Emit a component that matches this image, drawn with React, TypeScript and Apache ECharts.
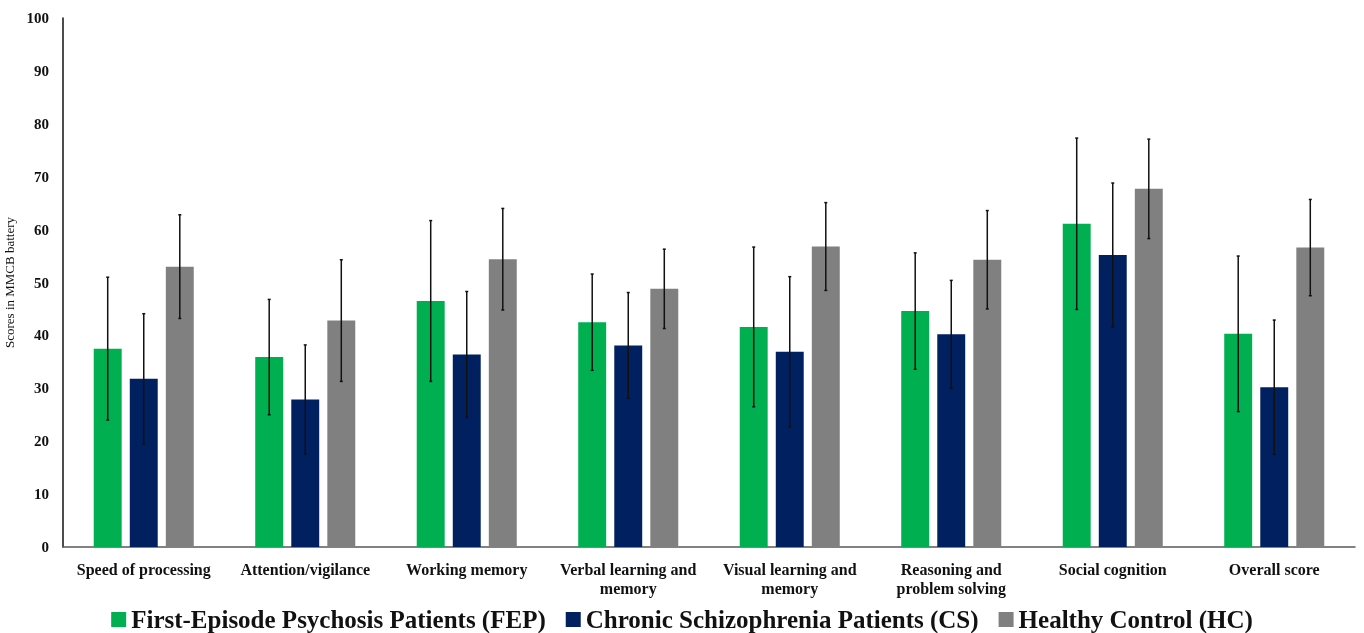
import React, { useEffect, useRef } from "react";
import * as echarts from "echarts";

const categories = [
  "Speed of processing",
  "Attention/vigilance",
  "Working memory",
  "Verbal learning and\nmemory",
  "Visual learning and\nmemory",
  "Reasoning and\nproblem solving",
  "Social cognition",
  "Overall score",
];

const seriesNames = [
  "First-Episode Psychosis Patients (FEP)",
  "Chronic Schizophrenia Patients (CS)",
  "Healthy Control (HC)",
];

const fepMean = [37.5, 35.9, 46.5, 42.5, 41.6, 44.6, 61.1, 40.3];
const fepSD = [13.5, 10.9, 15.2, 9.1, 15.1, 11.0, 16.2, 14.7];
const csMean = [31.8, 27.9, 36.4, 38.1, 36.9, 40.2, 55.2, 30.2];
const csSD = [12.3, 10.3, 11.9, 10.0, 14.2, 10.2, 13.6, 12.7];
const hcMean = [53.0, 42.8, 54.4, 48.8, 56.8, 54.3, 67.7, 56.6];
const hcSD = [9.8, 11.5, 9.6, 7.5, 8.3, 9.3, 9.4, 9.1];

const yTicks = [0, 10, 20, 30, 40, 50, 60, 70, 80, 90, 100];

const colors = ["#00B050", "#002060", "#808080"];
const BAR_FRAC = 0.173;
const GAP_FRAC = 0.29;
const FONT = "Liberation Serif, DejaVu Serif, serif";

export default function App() {
  const ref = useRef<HTMLDivElement>(null);
  useEffect(() => {
    document.body.style.margin = "0";
    const chart = echarts.init(ref.current!, null, { renderer: "svg" });
    const means = [fepMean, csMean, hcMean];
    const sds = [fepSD, csSD, hcSD];

    const barSeries = means.map((m, i) => ({
      name: seriesNames[i],
      type: "bar",
      data: m,
      barWidth: BAR_FRAC * 100 + "%",
      barGap: GAP_FRAC * 100 + "%",
      itemStyle: { color: colors[i] },
    }));

    const errSeries = means.map((m, i) => ({
      type: "custom",
      name: "err" + i,
      z: 10,
      data: m.map((v, k) => [k, v - sds[i][k], v + sds[i][k]]),
      renderItem: (params: any, api: any) => {
        const band = api.size([1, 0])[0];
        const bw = band * BAR_FRAC;
        const off = (i - 1) * bw * (1 + GAP_FRAC);
        const lo = api.coord([api.value(0), api.value(1)]);
        const hi = api.coord([api.value(0), api.value(2)]);
        const x = lo[0] + off;
        const st = { stroke: "#111", lineWidth: 1.5 };
        return {
          type: "group",
          children: [
            { type: "line", shape: { x1: x, y1: lo[1], x2: x, y2: hi[1] }, style: st },
            { type: "line", shape: { x1: x - 1.5, y1: lo[1], x2: x + 1.5, y2: lo[1] }, style: st },
            { type: "line", shape: { x1: x - 1.5, y1: hi[1], x2: x + 1.5, y2: hi[1] }, style: st },
          ],
        };
      },
    }));

    chart.setOption({
      animation: false,
      textStyle: { fontFamily: FONT },
      grid: {
        left: 63,
        right: 9,
        top: 18,
        bottom: 86,
        containLabel: false,
        outerBoundsMode: "none",
      },
      legend: {
        data: seriesNames,
        top: 607,
        left: "center",
        padding: 0,
        icon: "rect",
        itemWidth: 15,
        itemHeight: 15,
        itemGap: 20,
        textStyle: { fontFamily: FONT, fontSize: 25, fontWeight: "bold", color: "#111" },
      },
      xAxis: {
        type: "category",
        data: categories,
        axisTick: { show: false },
        axisLine: { lineStyle: { color: "#595959", width: 1.5 } },
        axisLabel: {
          interval: 0,
          margin: 13,
          fontFamily: FONT,
          fontSize: 16,
          fontWeight: "bold",
          color: "#111",
          lineHeight: 19,
        },
      },
      yAxis: {
        type: "value",
        min: yTicks[0],
        max: yTicks[yTicks.length - 1],
        interval: 10,
        name: "Scores in MMCB battery",
        nameLocation: "middle",
        nameGap: 38,
        nameTextStyle: { fontFamily: FONT, fontSize: 13, color: "#111" },
        axisLine: { show: true, lineStyle: { color: "#111", width: 1.5 } },
        axisTick: { show: false },
        splitLine: { show: false },
        axisLabel: {
          margin: 14,
          fontFamily: FONT,
          fontSize: 15,
          fontWeight: "bold",
          color: "#111",
        },
      },
      series: [...barSeries, ...errSeries],
    });
    return () => chart.dispose();
  }, []);
  return (
    <div
      ref={ref}
      style={{ position: "fixed", left: 0, top: 0, width: 1364, height: 633 }}
    />
  );
}
